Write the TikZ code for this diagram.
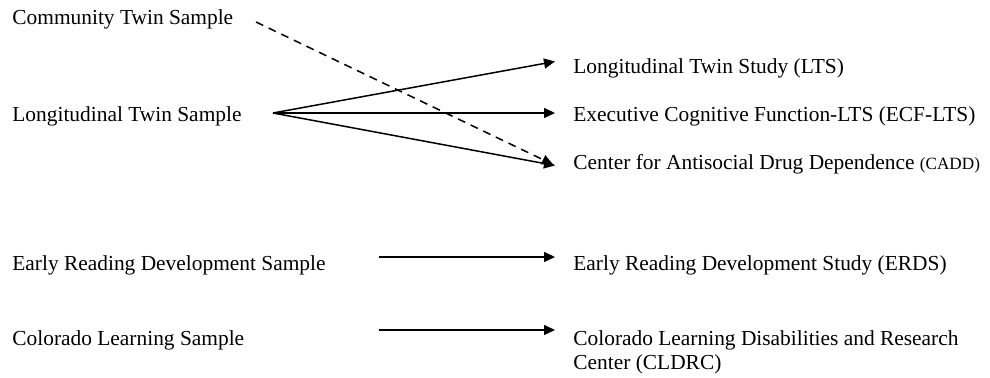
\documentclass[tikz,border=0pt]{standalone}
\usepackage{fontspec}
\setmainfont{Liberation Serif}
\usetikzlibrary{arrows.meta}
\tikzset{
  lbl/.style={anchor=base west, inner sep=0pt, font=\fontsize{10.7}{12}\selectfont, align=left},
  arr/.style={line width=0.75pt, -{Triangle[length=5.5pt,width=5pt]}},
  darr/.style={line width=0.75pt, dash pattern=on 4pt off 3pt, -{Triangle[length=5.5pt,width=5pt]}}
}
\begin{document}
\begin{tikzpicture}[x=0.5pt,y=-0.5pt]
\useasboundingbox (0,0) rectangle (990,378);
% left labels
\node[lbl] (cts) at (12,25) {Community Twin Sample};
\node[lbl] (lsm) at (12,122) {Longitudinal Twin Sample};
\node[lbl] (erdsS) at (12,271) {Early Reading Development Sample};
\node[lbl] (clsS) at (12,346) {Colorado Learning Sample};
% right labels
\node[lbl] (lts) at (573,74) {Longitudinal Twin Study (LTS)};
\node[lbl] (ecf) at (573,122) {Executive Cognitive Function-LTS (ECF-LTS)};
\node[lbl] (cadd) at (573,170) {Center for Antisocial Drug Dependence {\fontsize{8.6}{10}\selectfont(CADD)}};
\node[lbl] (erds) at (573,271) {Early Reading Development Study (ERDS)};
\node[lbl] (cldrc) at (573,370) {Colorado Learning Disabilities and Research\\Center (CLDRC)};
% connector endpoints
\coordinate (ctsE) at (256,22);
\coordinate (lsmE) at (273,113);
\coordinate (ltsW) at (555,61.5);
\coordinate (ecfW) at (555,113);
\coordinate (caddW) at (555,165.5);
\coordinate (caddWd) at (553,164.5);
\coordinate (erdsSE) at (379,257);
\coordinate (erdsW) at (555,257);
\coordinate (clsSE) at (379,330);
\coordinate (cldrcW) at (555,330);
% connectors
\draw[arr] (lsmE) -- (ltsW);
\draw[arr] (lsmE) -- (ecfW);
\draw[arr] (lsmE) -- (caddW);
\draw[darr] (ctsE) -- (caddWd);
\draw[arr] (erdsSE) -- (erdsW);
\draw[arr] (clsSE) -- (cldrcW);
\end{tikzpicture}
\end{document}
